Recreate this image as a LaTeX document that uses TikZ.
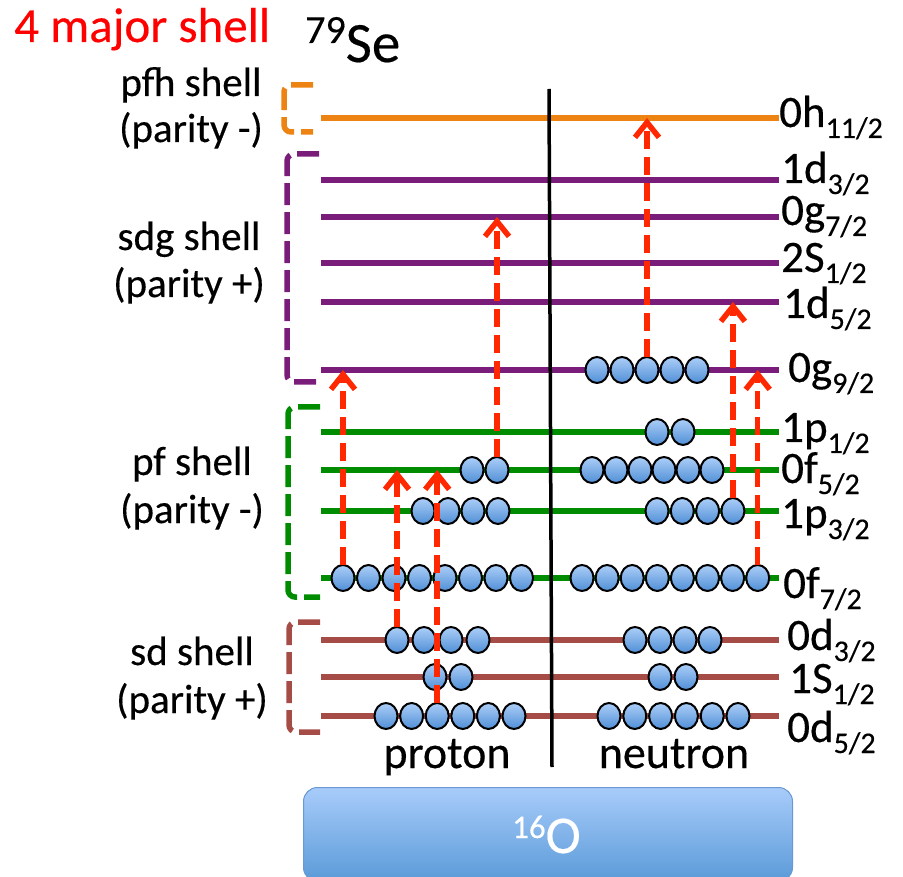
\documentclass[tikz,border=0pt]{standalone}
\usepackage{fontspec}
\setmainfont{Carlito}[FakeBold=0.35]
\usetikzlibrary{arrows.meta,shapes.geometric}
\definecolor{cOr}{RGB}{236,131,18}
\definecolor{cPu}{RGB}{122,28,122}
\definecolor{cGr}{RGB}{0,140,0}
\definecolor{cBr}{RGB}{166,76,70}
\definecolor{cRed}{RGB}{255,40,0}
\definecolor{cTitle}{RGB}{255,0,0}
\definecolor{pTop}{RGB}{172,206,248}
\definecolor{pBot}{RGB}{80,143,214}
\definecolor{bTop}{RGB}{168,204,250}
\definecolor{bBot}{RGB}{90,154,216}
\definecolor{bEdge}{RGB}{105,152,210}
\newcommand{\lvllab}[3]{#1\raisebox{-11pt}{\fontsize{30}{30}\selectfont #2/#3}}
\begin{document}
\begin{tikzpicture}[x=1pt,y=-1pt,
  levelline/.style={line width=5.5pt},
  bracket/.style={line width=5.5pt, dash pattern=on 22pt off 7pt, rounded corners=7pt},
  particle/.style={ellipse, draw=black, line width=2pt, minimum width=23pt, minimum height=26pt, inner sep=0pt, outer sep=0pt, top color=pTop, bottom color=pBot},
  jump/.style={draw=cRed, line width=5.5pt, dash pattern=on 18pt off 8pt, -{Straight Barb[length=15pt,width=24pt]}},
  lvl/.style={font=\fontsize{45}{45}\selectfont, inner sep=0pt, anchor=base west},
  side/.style={font=\fontsize{41}{41}\selectfont, inner sep=0pt, anchor=base},
  bigtext/.style={inner sep=0pt, anchor=base west}]
\useasboundingbox (0,0) rectangle (903,877);
\clip (0,0) rectangle (903,877);

% core box
\node[draw=bEdge, line width=1pt, rounded corners=14pt, top color=bTop, bottom color=bBot,
      minimum width=489pt, minimum height=94pt, anchor=north west, inner sep=0pt] (core) at (303,787) {};
\node[bigtext, text=white] (otext) at (512,853) {\fontsize{33}{33}\selectfont\raisebox{15pt}{16}\fontsize{53}{53}\selectfont O};

% brackets
\draw[bracket, draw=cOr] (313,85) -- (284,85) -- (284,132) -- (313,132);
\draw[bracket, draw=cPu] (319,154) -- (287,154) -- (287,382) -- (322,382);
\draw[bracket, draw=cGr] (320,407) -- (288,407) -- (288,597) -- (320,597);
\draw[bracket, draw=cBr] (320,622) -- (289,622) -- (289,732) -- (320,732);

% levels
\foreach \n/\y/\c/\m/\a/\b/\lx/\ly in {
  h11/118/cOr/0h/11/2/779/127,
  d3/180/cPu/1d/3/2/781/183,
  g7/217/cPu/0g/7/2/781/225,
  s1/263/cPu/2S/1/2/781/272,
  d5/302/cPu/1d/5/2/783/318,
  g9/370/cPu/0g/9/2/788/382,
  p1/432/cGr/1p/1/2/781/442,
  f5/470/cGr/0f/5/2/781/483,
  p3/511/cGr/1p/3/2/781/528,
  f7/578/cGr/0f/7/2/783/598,
  dd3/640/cBr/0d/3/2/787/650,
  ss1/677/cBr/1S/1/2/789/693,
  dd5/716/cBr/0d/5/2/787/742}{
  \coordinate (\n-L) at (321,\y);
  \coordinate (\n-R) at (779,\y);
  \draw[levelline, draw=\c] (\n-L) -- (\n-R);
  \node[lvl] (\n-lab) at (\lx,\ly) {\lvllab{\m}{\a}{\b}};
}

% proton / neutron divider
\coordinate (vt) at (549,89);
\coordinate (vb) at (552,767);
\draw[line width=3.5pt] (vt) -- (vb);

% particles
\foreach \r/\yy/\xo/\dx/\k in {
  pf7/578/343/25.5/8,
  pp3/511/423/25/4,
  pf5/470/472/25/2,
  pd3/640/397/27/4,
  ps1/677/435/26/2,
  pd5/716/386/25.6/6,
  ng9/370/597/25/5,
  np1/432/657/26/2,
  nf5/470/592/24/6,
  np3/511/657/25.3/4,
  nf7/578/582/25.1/8,
  nd3/640/635/25/4,
  ns1/677/660/26/2,
  nd5/716/609/25.8/6}{
  \foreach \i in {1,...,\k}{
    \node[particle] (\r-\i) at ({\xo+(\i-1)*\dx},\yy) {};
  }
}

% excitations
\draw[jump] (pf7-1.north) -- (pf7-1.north |- g9-L);
\draw[jump] (pf5-2.north) -- (pf5-2.north |- g7-L);
\draw[jump] (pd3-1.north) -- (pd3-1.north |- f5-L);
\draw[jump] (pd5-3.north) -- (pd5-3.north |- f5-L);
\draw[jump] (ng9-3.north) -- (ng9-3.north |- h11-L);
\draw[jump] (np3-4.north) -- (np3-4.north |- d5-L);
\draw[jump] (nf7-8.north) -- (nf7-8.north |- g9-L);

% texts
\node[bigtext, text=cTitle, font=\fontsize{49}{49}\selectfont] (title) at (14,42) {4 major shell};
\node[bigtext] (se) at (305,62) {\fontsize{40}{40}\selectfont\raisebox{19pt}{79}\fontsize{57}{57}\selectfont Se};

\node[side] (pfh1) at (191,96) {pfh shell};
\node[side] (pfh2) at (191,142) {(parity -)};
\node[side] (sdg1) at (189,250) {sdg shell};
\node[side] (sdg2) at (189,297) {(parity +)};
\node[side] (pf1) at (192,475) {pf shell};
\node[side] (pf2) at (192,523) {(parity -)};
\node[side] (sd1) at (192,665) {sd shell};
\node[side] (sd2) at (192,713) {(parity +)};

\node[side, font=\fontsize{46}{46}\selectfont] (proton) at (447,768) {proton};
\node[side, font=\fontsize{46}{46}\selectfont] (neutron) at (674,768) {neutron};
\end{tikzpicture}
\end{document}
